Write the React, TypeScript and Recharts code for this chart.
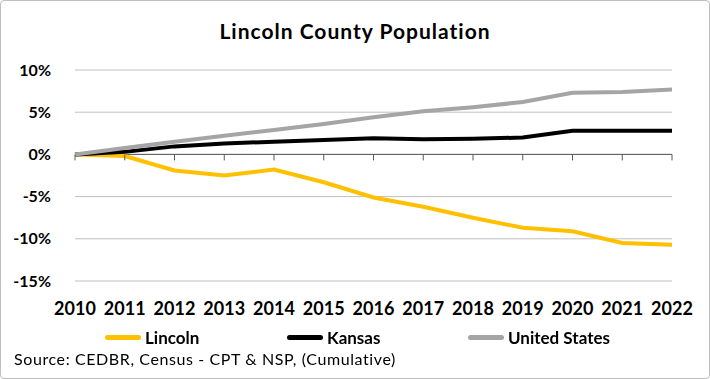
import React from 'react';
import { LineChart, Line, XAxis, YAxis, CartesianGrid, ReferenceLine, ReferenceDot, Legend } from 'recharts';

const years = ['2010', '2011', '2012', '2013', '2014', '2015', '2016', '2017', '2018', '2019', '2020', '2021', '2022'];
const lincoln = [0, -0.2, -1.9, -2.5, -1.8, -3.3, -5.1, -6.2, -7.5, -8.7, -9.1, -10.5, -10.7];
const kansas = [0, 0.3, 0.95, 1.3, 1.5, 1.7, 1.9, 1.8, 1.85, 2.0, 2.8, 2.8, 2.8];
const unitedStates = [0, 0.75, 1.5, 2.2, 2.9, 3.6, 4.4, 5.1, 5.6, 6.2, 7.3, 7.4, 7.7];
const yTicks = [-15, -10, -5, 0, 5, 10];

const seriesInfo = [
  { key: 'Lincoln', color: '#FFC000', left: 105 },
  { key: 'Kansas', color: '#000000', left: 287 },
  { key: 'United States', color: '#A5A5A5', left: 468 },
];

const data = years.map((y, i) => ({
  year: y,
  Lincoln: lincoln[i],
  Kansas: kansas[i],
  'United States': unitedStates[i],
}));

const FONT = 'Lato, "Open Sans", sans-serif';

const LegendBox = () => (
  <div style={{ fontFamily: FONT, width: 710, position: 'relative' }}>
    <div style={{ height: 22, position: 'relative' }}>
      {seriesInfo.map((s) => (
        <div
          key={s.key}
          style={{ position: 'absolute', left: s.left, top: 0, height: 22, display: 'flex', alignItems: 'center' }}
        >
          <span style={{ display: 'inline-block', width: 36, height: 5, background: s.color, borderRadius: 2.5 }} />
          <span style={{ fontWeight: 700, fontSize: 17, color: '#000', marginLeft: 4 }}>{s.key}</span>
        </div>
      ))}
    </div>
    <div style={{ fontSize: 16, color: '#000', marginLeft: 14, marginTop: 1, letterSpacing: 0.6 }}>
      Source: CEDBR, Census - CPT &amp; NSP, (Cumulative)
    </div>
  </div>
);

const TickMark = (props: any) => {
  const { cx, cy } = props;
  return <line x1={cx} y1={cy} x2={cx} y2={cy + 6} stroke="#595959" strokeWidth={1} />;
};

const App: React.FC = () => {
  return (
    <div
      style={{
        position: 'fixed',
        top: 0,
        left: 0,
        width: 710,
        height: 379,
        background: '#fff',
        boxSizing: 'border-box',
        border: '1px solid #bfbfbf',
        borderRadius: 4,
      }}
    >
      <div
        style={{
          position: 'absolute',
          top: 17,
          width: 708,
          textAlign: 'center',
          fontFamily: FONT,
          fontWeight: 700,
          fontSize: 21,
          letterSpacing: 1,
          color: '#000',
        }}
      >
        Lincoln County Population
      </div>
      <div style={{ position: 'absolute', top: -1, left: -1 }}>
        <LineChart width={710} height={379} data={data} margin={{ top: 70, right: 38, left: 0, bottom: 68 }}>
          <CartesianGrid vertical={false} stroke="#bfbfbf" strokeWidth={1} />
          <XAxis
            dataKey="year"
            axisLine={false}
            tickLine={false}
            height={30}
            interval={0}
            tick={{ fontFamily: FONT, fontWeight: 700, fontSize: 18, fill: '#000' }}
            tickMargin={15}
          />
          <YAxis
            domain={[-15, 10]}
            ticks={yTicks}
            width={75}
            axisLine={false}
            tickLine={false}
            tickFormatter={(v: number) => `${v}%`}
            tick={{ fontFamily: FONT, fontWeight: 700, fontSize: 16, fill: '#000' }}
            tickMargin={18}
          />
          <ReferenceLine y={0} stroke="#595959" strokeWidth={1} />
          {years.map((y) => (
            <ReferenceDot key={y} x={y} y={0} r={0} shape={TickMark} />
          ))}
          {seriesInfo.map((s) => (
            <Line
              key={s.key}
              dataKey={s.key}
              stroke={s.color}
              strokeWidth={4}
              dot={false}
              type="linear"
              isAnimationActive={false}
            />
          ))}
          <Legend
            layout="horizontal"
            verticalAlign="middle"
            align="center"
            content={() => <LegendBox />}
            wrapperStyle={{ position: 'absolute', top: 326, left: 0, width: 710 }}
          />
        </LineChart>
      </div>
    </div>
  );
};

export default App;
